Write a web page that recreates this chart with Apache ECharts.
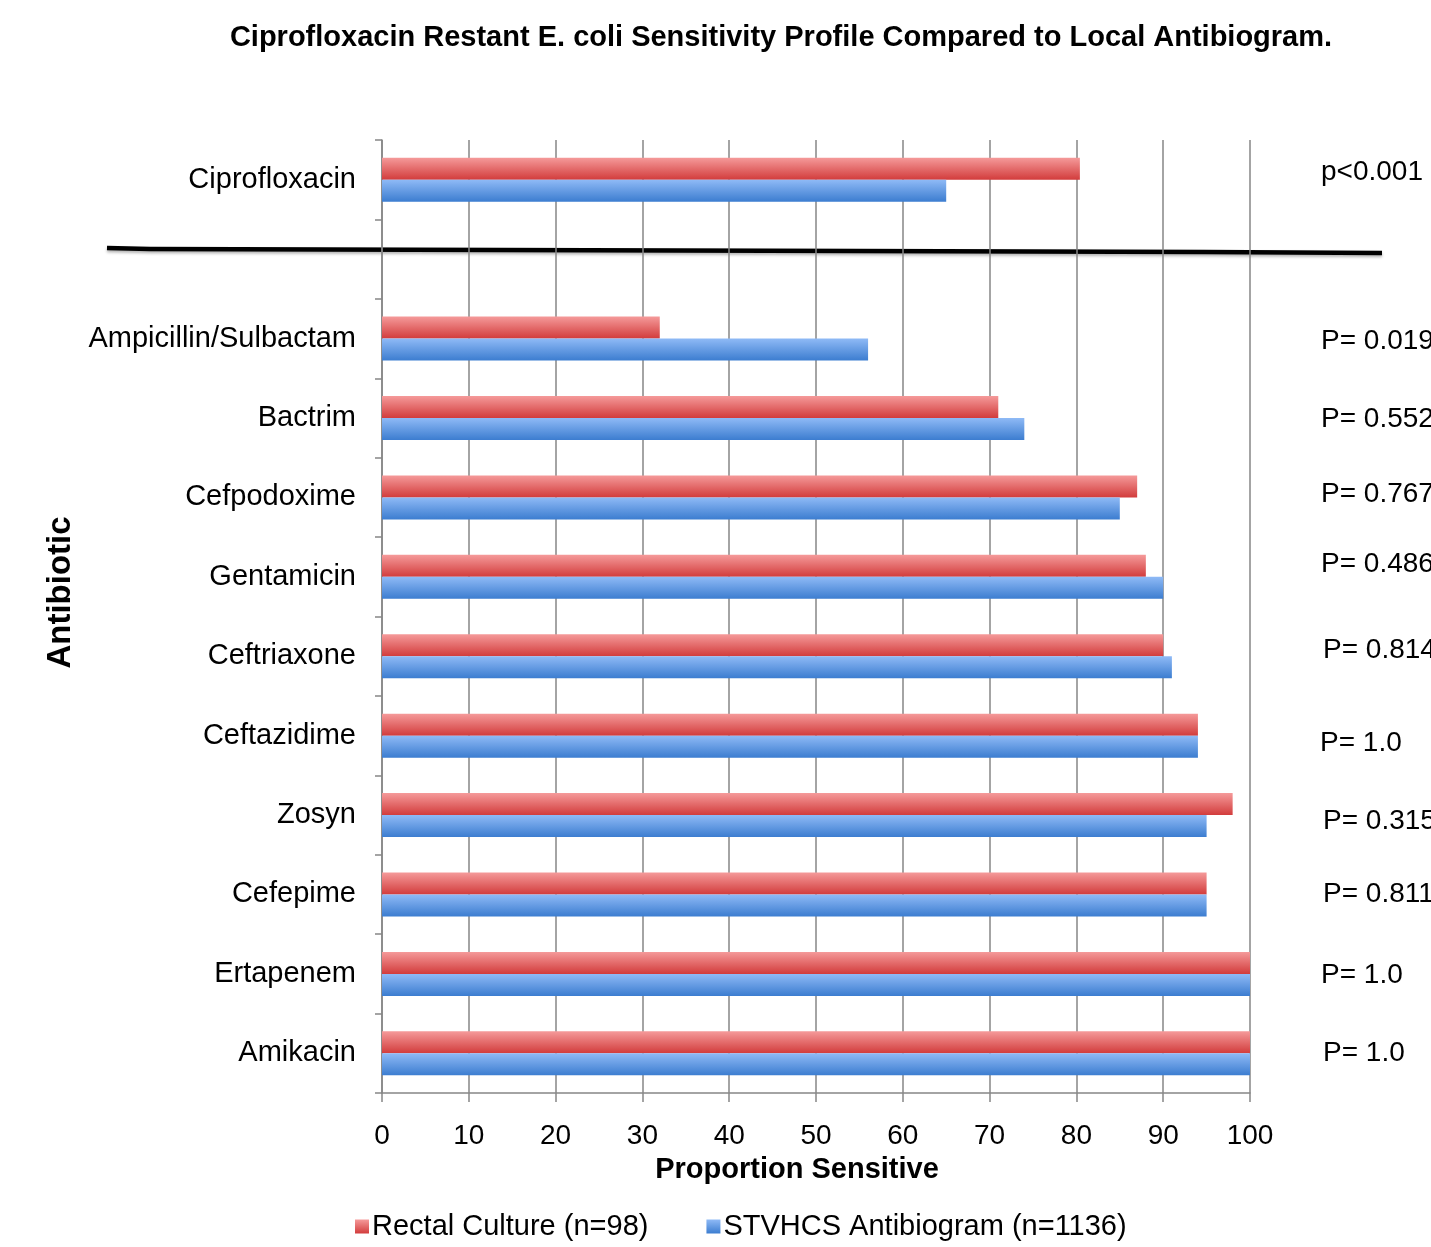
<!DOCTYPE html>
<html>
<head>
<meta charset="utf-8">
<script src="https://cdn.jsdelivr.net/npm/echarts@6/dist/echarts.min.js"></script>
<style>
  html, body { margin: 0; padding: 0; background: #fff; }
  #main { width: 1431px; height: 1247px; }
</style>
</head>
<body>
<div id="main"></div>
<script>
// categories top to bottom (blank row separates ciprofloxacin)
var antibiotics = ['Ciprofloxacin', '', 'Ampicillin/Sulbactam', 'Bactrim', 'Cefpodoxime', 'Gentamicin',
  'Ceftriaxone', 'Ceftazidime', 'Zosyn', 'Cefepime', 'Ertapenem', 'Amikacin']
var rectalCulture = [80.4, '-', 32, 71, 87, 88, 90, 94, 98, 95, 100, 100]
var antibiogram = [65, '-', 56, 74, 85, 90, 91, 94, 95, 95, 100, 100]
var pValues = ['p<0.001', '', 'P= 0.019', 'P= 0.552', 'P= 0.767', 'P= 0.486',
  'P= 0.814', 'P= 1.0', 'P= 0.315', 'P= 0.811', 'P= 1.0', 'P= 1.0']

var FONT = "'Liberation Sans Narrow', 'Liberation Sans', Arial, sans-serif"

var chart = echarts.init(document.getElementById('main'))

function grad(top, bottom) {
  return new echarts.graphic.LinearGradient(0, 0, 0, 1, [
    { offset: 0, color: top },
    { offset: 1, color: bottom }
  ])
}

// p-value text positions (they sit a bit irregularly in the original)
var pPos = [[1321, 174], null, [1321, 343], [1321, 421], [1321, 496], [1321, 566],
  [1323, 652], [1320, 745], [1323, 823], [1323, 896], [1321, 977], [1323, 1055]]
var pTexts = []
pValues.forEach(function (t, i) {
  if (!t) return
  pTexts.push({
    type: 'text',
    left: pPos[i][0],
    top: pPos[i][1] - 16,
    style: { text: t, font: '28px ' + FONT, fill: '#000' }
  })
})

var option = {
  backgroundColor: '#fff',
  textStyle: { fontFamily: FONT },
  title: {
    text: 'Ciprofloxacin Restant E. coli Sensitivity Profile Compared to Local Antibiogram.',
    left: 776,
    textAlign: 'center',
    top: 18,
    textStyle: { fontFamily: FONT, fontWeight: 'bold', fontSize: 29, color: '#000' }
  },
  legend: {
    bottom: 1,
    left: 350,
    itemGap: 58,
    itemWidth: 14,
    itemHeight: 14,
    icon: 'rect',
    textStyle: { fontFamily: FONT, fontSize: 29, color: '#000', padding: [0, 0, 0, -2] },
    data: ['Rectal Culture (n=98)', 'STVHCS Antibiogram (n=1136)']
  },
  grid: { left: 382, right: 181, top: 140, bottom: 154 },
  xAxis: {
    type: 'value',
    min: 0,
    max: 100,
    interval: 10,
    name: 'Proportion Sensitive',
    nameLocation: 'middle',
    nameGap: 62,
    nameTextStyle: { fontFamily: FONT, fontWeight: 'bold', fontSize: 29, color: '#000', padding: [0, 38, 0, 0] },
    axisLine: { show: true, lineStyle: { color: '#868686', width: 1.5 } },
    axisTick: { show: true, length: 9, lineStyle: { color: '#868686', width: 1.5 } },
    axisLabel: { fontFamily: FONT, fontSize: 28, color: '#000', margin: 29 },
    splitLine: { show: true, lineStyle: { color: '#868686', width: 1.5 } }
  },
  yAxis: {
    type: 'category',
    inverse: true,
    data: antibiotics,
    name: 'Antibiotic',
    nameLocation: 'middle',
    nameGap: 257,
    nameRotate: 90,
    nameTextStyle: { fontFamily: FONT, fontWeight: 'bold', fontSize: 33, color: '#000', padding: [0, 0, 0, 48] },
    axisLine: { show: true, lineStyle: { color: '#868686', width: 1.5 } },
    axisTick: { show: true, length: 7, lineStyle: { color: '#868686', width: 1.5 } },
    axisLabel: { fontFamily: FONT, fontSize: 29, color: '#000', margin: 26, padding: [4, 0, 0, 0] }
  },
  series: [
    {
      name: 'Rectal Culture (n=98)',
      type: 'bar',
      barWidth: 22,
      barGap: '0%',
      itemStyle: {
        color: grad('#f59a9a', '#d23c3c'),
        shadowColor: 'rgba(0,0,0,0.25)',
        shadowBlur: 4,
        shadowOffsetY: 2
      },
      data: rectalCulture
    },
    {
      name: 'STVHCS Antibiogram (n=1136)',
      type: 'bar',
      barWidth: 22,
      barGap: '0%',
      itemStyle: {
        color: grad('#8fbaf6', '#3c7dd0'),
        shadowColor: 'rgba(0,0,0,0.25)',
        shadowBlur: 4,
        shadowOffsetY: 2
      },
      data: antibiogram
    }
  ],
  graphic: [
    {
      type: 'polyline',
      shape: { points: [[107, 248], [150, 249], [500, 250], [855, 251], [1205, 252], [1382, 253]] },
      style: { stroke: '#000', lineWidth: 4.5, fill: null, shadowColor: 'rgba(0,0,0,0.3)', shadowBlur: 3, shadowOffsetY: 2 }
    }
  ].concat(pTexts)
}

chart.setOption(option)
</script>
</body>
</html>
